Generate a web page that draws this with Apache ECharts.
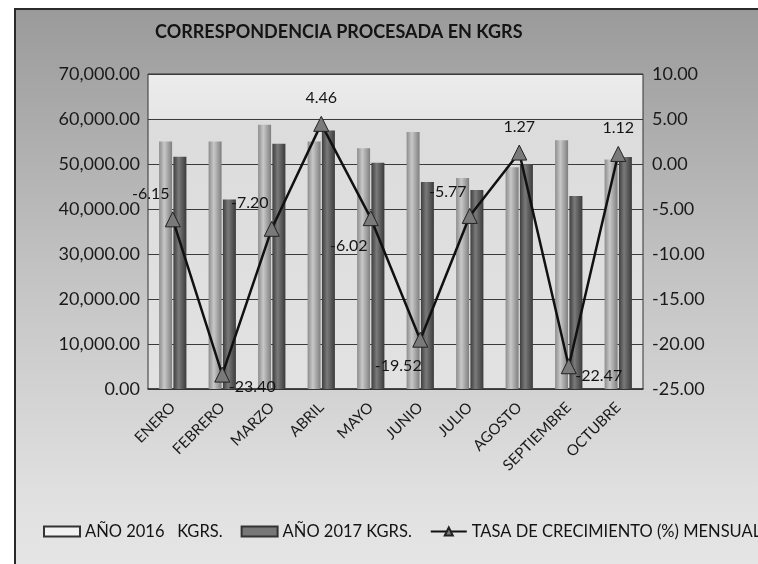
<!DOCTYPE html>
<html>
<head>
<meta charset="utf-8">
<script src="https://cdn.jsdelivr.net/npm/echarts@6/dist/echarts.min.js"></script>
<style>
	html, body { margin: 0; padding: 0; background: #fff; }
	#main { width: 758px; height: 564px; }
</style>
</head>
<body>
<div id="main"></div>
<script>
var months = ['ENERO', 'FEBRERO', 'MARZO', 'ABRIL', 'MAYO', 'JUNIO', 'JULIO', 'AGOSTO', 'SEPTIEMBRE', 'OCTUBRE'];
var kgrs2016 = [55000, 55000, 58700, 55000, 53500, 57100, 46900, 49300, 55300, 51000];
var kgrs2017 = [51600, 42100, 54500, 57450, 50300, 46000, 44200, 49930, 42870, 51570];
var tasa = [-6.15, -23.40, -7.20, 4.46, -6.02, -19.52, -5.77, 1.27, -22.47, 1.12];
// where each rate label sits relative to its point
var labelPos = [[-22, -26], [30, 12], [-22, -26], [0, -26], [-22, 28], [-22, 26], [-22, -24], [0, -26], [30, 10], [0, -26]];

var font = 'Lato, sans-serif';

function fmtMiles(v) {
	var s = v.toFixed(2).split('.');
	return s[0].replace(/\B(?=(\d{3})+(?!\d))/g, ',') + '.' + s[1];
}

var tasaData = [];
tasa.forEach(function(v, i) {
	tasaData.push({
		value: v,
		label: { offset: labelPos[i] }
	});
});

var myChart = echarts.init(document.getElementById('main'));
var option = {
	backgroundColor: '#fff',
	textStyle: { fontFamily: font },
	graphic: [{
		type: 'rect',
		z: -10,
		shape: { x: 15, y: 9, width: 760, height: 570 },
		style: {
			fill: new echarts.graphic.LinearGradient(0, 0, 0, 1, [
				{ offset: 0, color: '#9a9a9a' },
				{ offset: 0.45, color: '#c2c2c2' },
				{ offset: 0.85, color: '#e0e0e0' },
				{ offset: 1, color: '#e6e6e6' }
			]),
			stroke: '#2a2a2a',
			lineWidth: 2
		}
	}],
	title: {
		text: 'CORRESPONDENCIA PROCESADA EN KGRS',
		left: 150,
		top: 18,
		textStyle: { fontSize: 18, fontWeight: 'bold', color: '#141414', fontFamily: font }
	},
	legend: {
		left: 38,
		top: 518,
		width: 900,
		itemGap: 18,
		itemWidth: 36,
		itemHeight: 10,
		textStyle: { fontSize: 16.5, color: '#141414', fontFamily: font },
		data: [
			{ name: 'AÑO 2016   KGRS.', icon: 'rect', itemStyle: { color: '#f2f2f2', borderColor: '#333', borderWidth: 2 } },
			{ name: 'AÑO 2017 KGRS.', icon: 'rect', itemStyle: { color: '#777', borderColor: '#333', borderWidth: 2 } },
			{ name: 'TASA DE CRECIMIENTO (%) MENSUAL' }
		]
	},
	grid: {
		left: 148,
		right: 115,
		top: 74,
		bottom: 175,
		show: true,
		backgroundColor: new echarts.graphic.LinearGradient(0, 0, 0, 1, [
			{ offset: 0, color: '#ececec' },
			{ offset: 0.14, color: '#e6e6e6' },
			{ offset: 0.15, color: '#dcdcdc' },
			{ offset: 1, color: '#e2e2e2' }
		]),
		borderColor: '#333',
		borderWidth: 1
	},
	xAxis: [{
		type: 'category',
		data: months,
		axisLine: { lineStyle: { color: '#333', width: 1.5 } },
		axisTick: { show: false },
		axisLabel: { rotate: 45, fontSize: 15, color: '#1a1a1a', margin: 16, interval: 0, fontFamily: font }
	}],
	yAxis: [{
		type: 'value',
		min: 0,
		max: 70000,
		interval: 10000,
		axisLine: { show: false },
		axisTick: { show: false },
		splitLine: { lineStyle: { color: '#3a3a3a', width: 1 } },
		axisLabel: { fontSize: 18, color: '#1a1a1a', margin: 8, formatter: fmtMiles, fontFamily: font }
	}, {
		type: 'value',
		min: -25,
		max: 10,
		interval: 5,
		axisLine: { show: false },
		axisTick: { show: false },
		splitLine: { show: false },
		axisLabel: { fontSize: 18, color: '#1a1a1a', margin: 9, formatter: function(v) { return v.toFixed(2); }, fontFamily: font }
	}],
	series: [{
		name: 'AÑO 2016   KGRS.',
		type: 'bar',
		data: kgrs2016,
		barWidth: 13,
		barGap: '10%',
		itemStyle: {
			color: new echarts.graphic.LinearGradient(0, 0, 1, 0, [
				{ offset: 0, color: '#8c8c8c' },
				{ offset: 0.4, color: '#c8c8c8' },
				{ offset: 1, color: '#7e7e7e' }
			])
		}
	}, {
		name: 'AÑO 2017 KGRS.',
		type: 'bar',
		data: kgrs2017,
		barWidth: 13,
		itemStyle: {
			color: new echarts.graphic.LinearGradient(0, 0, 1, 0, [
				{ offset: 0, color: '#3e3e3e' },
				{ offset: 0.4, color: '#7a7a7a' },
				{ offset: 1, color: '#3a3a3a' }
			])
		}
	}, {
		name: 'TASA DE CRECIMIENTO (%) MENSUAL',
		type: 'line',
		yAxisIndex: 1,
		data: tasaData,
		symbol: 'triangle',
		symbolSize: 15,
		lineStyle: { color: '#111', width: 2.5 },
		itemStyle: { color: '#7a7a7a', borderColor: '#222', borderWidth: 1 },
		label: {
			show: true,
			position: 'inside',
			fontSize: 16,
			color: '#141414',
			fontFamily: font,
			formatter: function(p) { return p.value.toFixed(2); }
		},
		z: 5
	}]
};
myChart.setOption(option);
</script>
</body>
</html>
